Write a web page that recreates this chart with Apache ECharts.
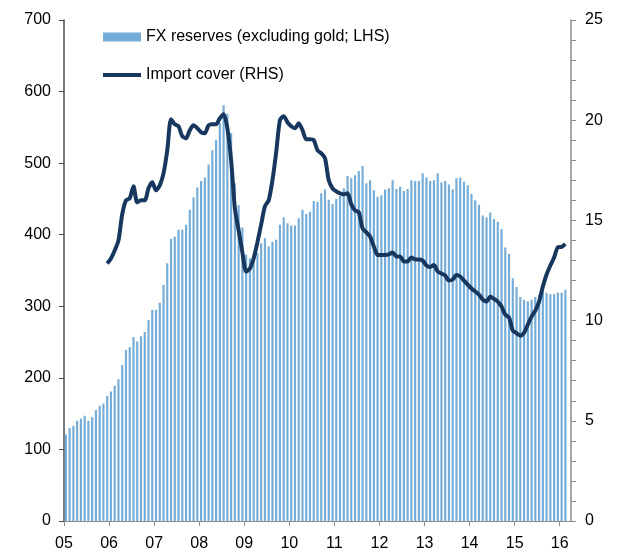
<!DOCTYPE html>
<html>
<head>
<meta charset="utf-8">
<script src="https://cdn.jsdelivr.net/npm/echarts@6/dist/echarts.min.js"></script>
<style>
html, body { margin: 0; padding: 0; background: #fff; }
#chart { width: 627px; height: 554px; }
</style>
</head>
<body>
<div id="chart"></div>
<script>
// year tick labels (one per January)
var yearLabels = ['05', '06', '07', '08', '09', '10', '11', '12', '13', '14', '15', '16'];

// FX reserves excluding gold, USD bn, monthly Jan-05 .. Mar-16 (LHS)
var fxReserves = [
	121, 130, 133, 140, 143, 147, 140, 145, 155, 161, 164, 175,
	181, 189, 198, 218, 239, 243, 257, 251, 258, 264, 281, 295,
	295, 305, 330, 360, 394, 397, 407, 407, 414, 435, 452, 466,
	475, 480, 498, 518, 532, 556, 581, 569, 542, 472, 441, 410,
	372, 367, 362, 374, 388, 395, 384, 390, 393, 414, 424, 416,
	413, 413, 423, 435, 429, 432, 447, 446, 458, 463, 449, 443,
	450, 454, 465, 482, 479, 483, 489, 496, 472, 476, 462, 453,
	455, 463, 465, 476, 464, 467, 461, 464, 476, 475, 475, 486,
	480, 475, 476, 486, 473, 475, 470, 463, 479, 480, 474, 469,
	457, 448, 442, 427, 424, 431, 422, 418, 408, 382, 373, 339,
	327, 313, 309, 307, 309, 313, 316, 321, 319, 317, 317, 319,
	319, 323, null
];

// import cover, months (RHS)
var importCover = [
	null, null, null, null, null, null, null, null, null, null, null, 12.85,
	13.1, 13.5, 14.0, 15.3, 16.0, 16.1, 16.7, 15.9, 16.0, 16.0, 16.6, 16.9,
	16.5, 16.75, 17.35, 18.5, 20.05, 19.8, 19.7, 19.2, 19.1, 19.5, 19.75, 19.6,
	19.4, 19.35, 19.75, 19.8, 19.8, 20.1, 20.3, 19.6, 18.0, 15.6, 14.5, 13.4,
	12.45, 12.6, 13.1, 13.9, 14.8, 15.7, 16.0, 17.0, 18.4, 20.0, 20.2, 19.9,
	19.7, 19.6, 19.85, 19.5, 19.05, 19.05, 19.0, 18.5, 18.35, 18.1, 17.0, 16.6,
	16.45, 16.35, 16.3, 16.35, 15.8, 15.5, 15.4, 14.6, 14.4, 14.2, 13.7, 13.27,
	13.27, 13.27, 13.3, 13.4, 13.2, 13.2, 12.95, 12.95, 13.15, 13.05, 13.05, 13.0,
	12.75, 12.67, 12.77, 12.45, 12.35, 12.25, 12.0, 12.05, 12.28, 12.2, 12.0, 11.8,
	11.6, 11.45, 11.3, 11.05, 10.95, 11.2, 11.08, 10.95, 10.7, 10.3, 10.15, 9.5,
	9.37, 9.25, 9.4, 9.8, 10.2, 10.5, 10.95, 11.7, 12.3, 12.75, 13.15, 13.66,
	13.68, 13.82, null
];

var months = [];
for (var y = 0; y < yearLabels.length; y++) {
	for (var m = 1; m <= 12; m++) {
		months.push('20' + yearLabels[y] + '-' + (m < 10 ? '0' + m : m));
	}
}
months = months.slice(0, fxReserves.length);

var fontName = '"Liberation Sans", Arial, sans-serif';
var chart = echarts.init(document.getElementById('chart'));

var option = {
	animation : false,
	backgroundColor : '#fff',
	textStyle : {
		fontFamily : fontName
	},
	grid : {
		left : 64,
		right : 56,
		top : 20,
		bottom : 33
	},
	legend : {
		orient : 'vertical',
		left : 98,
		top : 24,
		itemWidth : 38,
		itemHeight : 9,
		itemGap : 22,
		textStyle : {
			fontSize : 16,
			color : '#000',
			fontFamily : fontName
		},
		data : [
			{ name : 'FX reserves (excluding gold; LHS)', icon : 'rect' },
			// plain thick line as the key, no marker
			{ name : 'Import cover (RHS)', icon : 'path://M0,0L38,0L38,4L0,4Z' }
		]
	},
	xAxis : [ {
		type : 'category',
		position : 'top',
		data : months,
		boundaryGap : true,
		show : false
	}, {
		type : 'value',
		position : 'bottom',
		min : 0,
		max : months.length,
		interval : 12,
		axisLine : {
			lineStyle : { color : '#8c8c8c', width : 1 }
		},
		axisTick : {
			length : 5,
			lineStyle : { color : '#8c8c8c' }
		},
		axisLabel : {
			fontSize : 16,
			color : '#000',
			margin : 15,
			showMaxLabel : false,
			formatter : function(v) {
				if (v % 12 !== 0) return '';
				return yearLabels[v / 12] || '';
			}
		},
		splitLine : { show : false }
	} ],
	yAxis : [ {
		type : 'value',
		position : 'left',
		min : 0,
		max : 700,
		interval : 100,
		axisLine : {
			show : true,
			lineStyle : { color : '#4d4d4d', width : 1.5 }
		},
		axisTick : {
			show : true,
			length : 5,
			lineStyle : { color : '#4d4d4d' }
		},
		axisLabel : {
			fontSize : 16,
			color : '#000',
			margin : 13
		},
		splitLine : { show : false }
	}, {
		type : 'value',
		position : 'right',
		min : 0,
		max : 25,
		interval : 5,
		axisLine : {
			show : true,
			lineStyle : { color : '#8c8c8c', width : 1.5 }
		},
		axisTick : {
			show : true,
			length : 5,
			lineStyle : { color : '#8c8c8c' }
		},
		minorTick : {
			show : true,
			splitNumber : 5,
			length : 5,
			lineStyle : { color : '#8c8c8c' }
		},
		axisLabel : {
			fontSize : 16,
			color : '#000',
			margin : 14
		},
		splitLine : { show : false }
	} ],
	series : [ {
		name : 'FX reserves (excluding gold; LHS)',
		type : 'bar',
		xAxisIndex : 0,
		yAxisIndex : 0,
		barCategoryGap : '42%',
		itemStyle : {
			color : '#75acd8'
		},
		data : fxReserves
	}, {
		name : 'Import cover (RHS)',
		type : 'line',
		xAxisIndex : 0,
		yAxisIndex : 1,
		symbol : 'none',
		smooth : 0.25,
		lineStyle : {
			color : '#17375e',
			width : 4
		},
		itemStyle : {
			color : '#17375e'
		},
		data : importCover
	} ]
};

chart.setOption(option);
</script>
</body>
</html>
